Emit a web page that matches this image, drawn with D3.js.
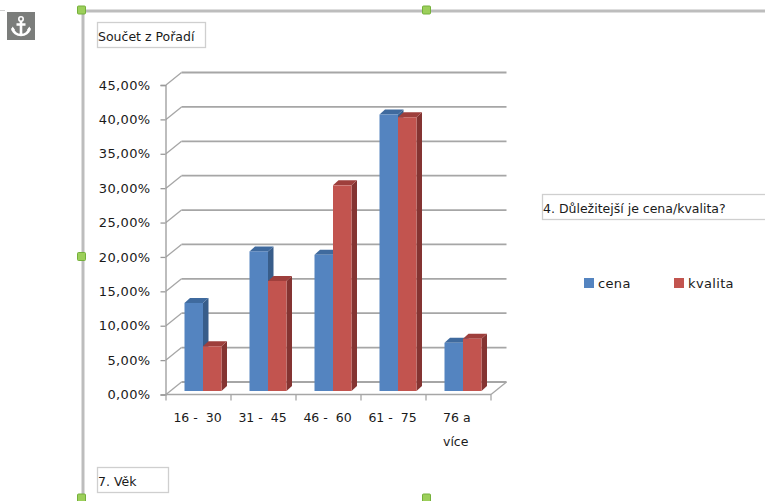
<!DOCTYPE html>
<html lang="cs">
<head>
<meta charset="utf-8">
<style>
  html, body { margin: 0; padding: 0; background: #fff; }
  svg { display: block; }
  text { font-family: "DejaVu Sans", Verdana, sans-serif; font-size: 12.5px; fill: #1a1a1a; }
  .axis-label { font-size: 13px; letter-spacing: 0.35px; }
  .cat { font-size: 12.5px; letter-spacing: 0; }
</style>
</head>
<body>
<svg id="chart" width="765" height="501"></svg>
<script src="https://cdn.jsdelivr.net/npm/d3@7/dist/d3.min.js"></script>
<script>
// Pivot chart: share of answers by age group and preferred criterion
const categories = ["16 -  30", "31 -  45", "46 -  60", "61 -  75", "76 a více"];
const cena = [12.8, 20.3, 19.8, 40.2, 7.0];
const kvalita = [6.5, 16.0, 29.9, 39.8, 7.6];
const seriesNames = ["cena", "kvalita"];
const yTicks = [0, 5, 10, 15, 20, 25, 30, 35, 40, 45];

const svg = d3.select("#chart");

// Oblique projection of the 3D plot: wall offset and bar depth
const wall = { dx: 15.5, dy: -12.5 };
const barDepth = { dx: 5.5, dy: -5 };
const barShift = { dx: 4.5, dy: -3.5 };
const barsPerBand = 37;

const x = d3.scaleBand().domain(categories).range([166, 491]);
const y = d3.scaleLinear().domain([0, 45]).range([394.5, 85]);
const inner = d3.scaleBand().domain(seriesNames)
  .range([0, barsPerBand]);

const palette = {
  cena: { front: "#5484c0", top: "#3f6a9e", side: "#385d8a" },
  kvalita: { front: "#c2544f", top: "#9e3f3c", side: "#843432" }
};

// Editor frame around the chart object
const frame = svg.append("g");
frame.append("path").attr("d", "M83,497V11H765")
  .attr("fill", "none").attr("stroke", "#bdbdbd").attr("stroke-width", 3);
frame.append("path").attr("d", "M0,10.5H5")
  .attr("stroke", "#d0d0d0").attr("stroke-width", 1);
const handles = [[81.5, 10], [426.5, 10], [81.5, 256.5], [81.5, 498], [426.5, 498]];
frame.selectAll("rect.handle").data(handles).join("rect")
  .attr("class", "handle")
  .attr("x", d => d[0] - 4).attr("y", d => d[1] - 4)
  .attr("width", 8).attr("height", 8).attr("rx", 1)
  .attr("fill", "#9ccf5a").attr("stroke", "#74b03a").attr("stroke-width", 1);

// Anchor marker
const anchor = svg.append("g");
anchor.append("rect").attr("x", 7).attr("y", 12).attr("width", 28).attr("height", 28)
  .attr("fill", "#7b7d7b");
anchor.append("circle").attr("cx", 21).attr("cy", 19).attr("r", 2.2)
  .attr("fill", "none").attr("stroke", "#fff").attr("stroke-width", 1.6);
anchor.append("path")
  .attr("d", "M21,21V35M16.5,24.5H25.5M12.5,28C13,32.5 17,35 21,35C25,35 29,32.5 29.5,28")
  .attr("fill", "none").attr("stroke", "#fff").attr("stroke-width", 2.6);
anchor.append("path").attr("d", "M11,30.5L12.5,26.5L15,30ZM31,30.5L29.5,26.5L27,30Z").attr("fill", "#fff");

// Gridlines on the back wall and their slanted run along the side wall
const grid = svg.append("g");
grid.selectAll("line.back").data(yTicks).join("line")
  .attr("class", "back")
  .attr("x1", 166 + wall.dx).attr("x2", 491 + wall.dx)
  .attr("y1", d => y(d) + wall.dy).attr("y2", d => y(d) + wall.dy)
  .attr("stroke", "#a6a6a6").attr("stroke-width", 1.8);
grid.selectAll("line.side").data(yTicks).join("line")
  .attr("class", "side")
  .attr("x1", 166).attr("x2", 166 + wall.dx)
  .attr("y1", d => y(d)).attr("y2", d => y(d) + wall.dy)
  .attr("stroke", "#a6a6a6").attr("stroke-width", 1.3);

// Floor edge on the right
svg.append("line")
  .attr("x1", 491).attr("x2", 491 + wall.dx)
  .attr("y1", y(0)).attr("y2", y(0) + wall.dy)
  .attr("stroke", "#a6a6a6").attr("stroke-width", 1.3);

// Value axis
const yAxis = d3.axisLeft(y).tickValues(yTicks).tickSize(5).tickPadding(10)
  .tickFormat(d => d3.format(".2f")(d).replace(".", ",") + "%");
const yG = svg.append("g").attr("transform", "translate(165.5,0)").call(yAxis);
yG.select(".domain").attr("stroke", "#9a9a9a").attr("stroke-width", 1.3);
yG.selectAll(".tick line").attr("stroke", "#9a9a9a").attr("stroke-width", 1.3);
yG.selectAll("text").attr("class", "axis-label").attr("fill", null);
yG.attr("font-size", null).attr("font-family", null);

// Category axis, tick marks between the bands
const bandEdges = [...categories.map(c => x(c)), 491];
const xBase = svg.append("g");
xBase.append("line").attr("x1", 166).attr("x2", 491)
  .attr("y1", y(0)).attr("y2", y(0))
  .attr("stroke", "#a6a6a6").attr("stroke-width", 1.5);
xBase.selectAll("line.tick").data(bandEdges).join("line")
  .attr("class", "tick")
  .attr("x1", d => d).attr("x2", d => d)
  .attr("y1", y(0)).attr("y2", y(0) + 6)
  .attr("stroke", "#a6a6a6").attr("stroke-width", 1.3);

const labelLines = d => d === "76 a více" ? ["76 a", "více"] : [d];
xBase.selectAll("text.cat").data(categories).join("text")
  .attr("class", "cat axis-label")
  .attr("xml:space", "preserve")
  .style("white-space", "pre")
  .attr("text-anchor", d => d === "76 a více" ? "start" : "middle")
  .attr("x", d => d === "76 a více" ? x(d) + 17 : x(d) + x.bandwidth() / 2 - 1)
  .attr("y", 422)
  .each(function (d) {
    d3.select(this).selectAll("tspan").data(labelLines(d)).join("tspan")
      .attr("x", d3.select(this).attr("x"))
      .attr("dy", (_, i) => i ? 24 : 0)
      .text(t => t);
  });

// Bars, back to front per band so the neighbouring prism overlaps correctly
const rows = categories.flatMap((c, i) => [
  { category: c, series: "cena", value: cena[i] },
  { category: c, series: "kvalita", value: kvalita[i] }
]);
const bar = svg.append("g").selectAll("g.bar").data(rows).join("g").attr("class", "bar");
const left = d => x(d.category) + (x.bandwidth() - barsPerBand) / 2 + barShift.dx + inner(d.series);
const right = d => left(d) + inner.bandwidth();
const baseY = () => y(0) + barShift.dy;
const topY = d => y(d.value) + barShift.dy;

bar.append("path") // side face
  .attr("fill", d => palette[d.series].side)
  .attr("d", d => `M${right(d)},${baseY()}L${right(d) + barDepth.dx},${baseY() + barDepth.dy}` +
    `V${topY(d) + barDepth.dy}L${right(d)},${topY(d)}Z`);
bar.append("path") // top face
  .attr("fill", d => palette[d.series].top)
  .attr("d", d => `M${left(d)},${topY(d)}L${left(d) + barDepth.dx},${topY(d) + barDepth.dy}` +
    `H${right(d) + barDepth.dx}L${right(d)},${topY(d)}Z`);
bar.append("rect") // front face
  .attr("fill", d => palette[d.series].front)
  .attr("x", left).attr("width", inner.bandwidth())
  .attr("y", topY).attr("height", d => baseY() - topY(d));

// Pivot field buttons
const buttons = [
  { label: "Součet z Pořadí", x: 97, y: 22, w: 108, h: 25, tx: 98 },
  { label: "4. Důležitejší je cena/kvalita?", x: 542, y: 194, w: 226, h: 25, tx: 543 },
  { label: "7. Věk", x: 97, y: 467, w: 71, h: 25, tx: 98 }
];
const btn = svg.append("g").selectAll("g").data(buttons).join("g");
btn.append("rect")
  .attr("x", d => d.x + 0.5).attr("y", d => d.y + 0.5)
  .attr("width", d => d.w).attr("height", d => d.h)
  .attr("fill", "#fff").attr("stroke", "#cfcfcf").attr("stroke-width", 1.3);
btn.append("text").attr("x", d => d.tx).attr("y", d => d.y + 19).text(d => d.label);

// Legend
const legendX = d3.scalePoint().domain(seriesNames).range([584, 674]);
const legend = svg.append("g").selectAll("g").data(seriesNames).join("g")
  .attr("transform", d => `translate(${legendX(d)},278)`);
legend.append("rect").attr("width", 10).attr("height", 10)
  .attr("fill", d => palette[d].front);
legend.append("text").attr("class", "axis-label").attr("x", 14).attr("y", 10).text(d => d);
</script>
</body>
</html>
